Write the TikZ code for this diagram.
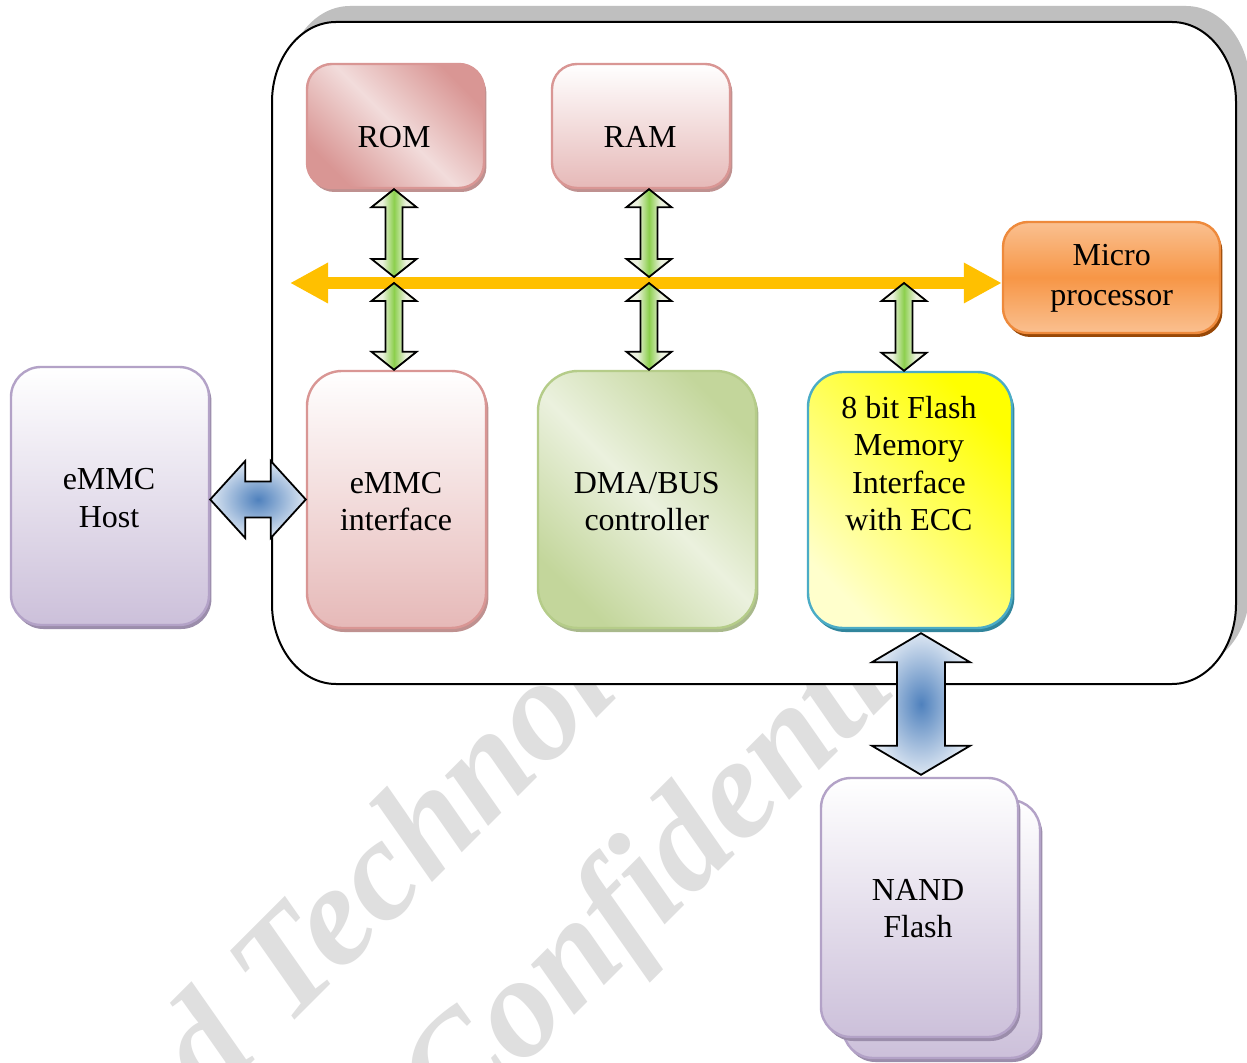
\documentclass[tikz,border=0pt]{standalone}
\usepackage{fontspec}
\setmainfont{Liberation Serif}
\usetikzlibrary{arrows.meta,shadows,calc}
\definecolor{romD}{HTML}{D99694}
\definecolor{romL}{HTML}{F2DCDB}
\definecolor{romB}{HTML}{D99694}
\definecolor{romS}{HTML}{BF9190}
\definecolor{ramD}{HTML}{E6B9B8}
\definecolor{micL}{HTML}{FAC090}
\definecolor{micD}{HTML}{F79646}
\definecolor{micB}{HTML}{EE8A3C}
\definecolor{micS}{HTML}{984807}
\definecolor{dmaD}{HTML}{C3D69B}
\definecolor{dmaL}{HTML}{EBF1DE}
\definecolor{dmaB}{HTML}{B5CC89}
\definecolor{dmaS}{HTML}{A9B98C}
\definecolor{flY}{HTML}{FFFF00}
\definecolor{flL}{HTML}{FFFFCC}
\definecolor{flB}{HTML}{4BACC6}
\definecolor{flS}{HTML}{31859C}
\definecolor{puD}{HTML}{CCC0DA}
\definecolor{puB}{HTML}{B3A2C7}
\definecolor{puS}{HTML}{9B8DAB}
\definecolor{gL}{HTML}{EBF1DE}
\definecolor{gD}{HTML}{8CCF4D}
\definecolor{bL}{HTML}{DCE6F2}
\definecolor{bD}{HTML}{4F81BD}
\definecolor{busc}{HTML}{FFC000}
\definecolor{frameS}{HTML}{BFBFBF}
\pgfdeclarehorizontalshading{garrowshade}{100bp}{color(0bp)=(gL); color(37bp)=(gL); color(50bp)=(gD); color(63bp)=(gL); color(100bp)=(gL)}
\newcommand\vdarr[6]{%
\path[#1] let \p1=#2, \p2=#3 in (\x1,\y1) -- (\x1+#4,\y1-#5) -- (\x1+#6,\y1-#5) -- (\x2+#6,\y2+#5) -- (\x2+#4,\y2+#5) -- (\x2,\y2) -- (\x2-#4,\y2+#5) -- (\x2-#6,\y2+#5) -- (\x1-#6,\y1-#5) -- (\x1-#4,\y1-#5) -- cycle;}
\newcommand\hdarr[6]{%
\path[#1] let \p1=#2, \p2=#3 in (\x1,\y1) -- (\x1+#5,\y1+#4) -- (\x1+#5,\y1+#6) -- (\x2-#5,\y2+#6) -- (\x2-#5,\y2+#4) -- (\x2,\y2) -- (\x2-#5,\y2-#4) -- (\x2-#5,\y2-#6) -- (\x1+#5,\y1-#6) -- (\x1+#5,\y1-#4) -- cycle;}
\tikzset{
 box/.style={rounded corners=#1, line width=1.2pt, inner sep=0pt},
 sh/.style={drop shadow={shadow xshift=1.2pt,shadow yshift=-2pt,fill=#1,opacity=1}},
 txt/.style={inner sep=0pt, align=center, anchor=north, font=\fontsize{16}{18.65}\selectfont},
 wm/.style={inner sep=0pt, text=gray!25, font=\fontsize{72}{80}\selectfont\bfseries\itshape},
 garr/.style={draw=black, line width=0.9pt, line join=miter, shade, shading=garrowshade},
 barr/.style={draw=black, line width=0.9pt, line join=miter, inner color=bD, outer color=bL},
 bus/.style={draw=busc, line width=6pt, arrows={Triangle[length=19pt,width=19pt]-Triangle[length=19pt,width=19pt]}}
}
\begin{document}
\begin{tikzpicture}[x=0.5pt,y=-0.5pt]
\clip (0,0) rectangle (1247,1063);
\fill[white] (0,0) rectangle (1247,1063);
% watermark
\node[wm, anchor=base west, rotate=45] (wm1) at (210,1105) {d Technology};
\node[wm, anchor=base west, rotate=45] (wm2) at (453,1137) {Confidential};
% main frame shadow and frame
\begin{scope}[shift={(14,-16)}]
\fill[frameS] (336,22) -- (1172,22) .. controls (1207.3,22) and (1236,57.8) .. (1236,102) -- (1236,604) .. controls (1236,648.2) and (1207.3,684) .. (1172,684) -- (336,684) .. controls (300.7,684) and (272,648.2) .. (272,604) -- (272,102) .. controls (272,57.8) and (300.7,22) .. (336,22) -- cycle;
\end{scope}
\draw[fill=white, line width=1pt] (336,22) -- (1172,22) .. controls (1207.3,22) and (1236,57.8) .. (1236,102) -- (1236,604) .. controls (1236,648.2) and (1207.3,684) .. (1172,684) -- (336,684) .. controls (300.7,684) and (272,648.2) .. (272,604) -- (272,102) .. controls (272,57.8) and (300.7,22) .. (336,22) -- cycle;
% boxes
\node[box=12.5pt, sh=romS, draw=romB, top color=romD, bottom color=romD, middle color=romL, shading angle=-45, minimum width=88.5pt, minimum height=62pt] (rom) at (395.5,126) {};
\node[box=12.5pt, sh=romS, draw=romB, top color=white, bottom color=ramD, minimum width=89pt, minimum height=62pt] (ram) at (641,126) {};
\node[box=12.5pt, sh=micS, draw=micB, top color=micL, bottom color=micL, middle color=micD, minimum width=108.5pt, minimum height=55.5pt] (micro) at (1111.5,277.5) {};
\node[box=17.5pt, sh=romS, draw=romB, top color=white, bottom color=ramD, minimum width=89.5pt, minimum height=128.5pt] (emmcif) at (396.5,499.5) {};
\node[box=20pt, sh=dmaS, draw=dmaB, top color=dmaD, bottom color=dmaD, middle color=dmaL, shading angle=-45, minimum width=109pt, minimum height=128.5pt] (dma) at (647,499.5) {};
\node[box=17.5pt, sh=flS, draw=flB, top color=flY, bottom color=flL, shading angle=-45, minimum width=102pt, minimum height=128pt] (flash) at (910,500) {};
\node[box=15pt, sh=puS, draw=puB, top color=white, bottom color=puD, minimum width=99pt, minimum height=129pt] (host) at (110,496) {};
\node[box=15pt, sh=puS, draw=puB, top color=white, bottom color=puD, minimum width=98.5pt, minimum height=129pt] (nandb) at (941.5,929) {};
\node[box=15pt, sh=puS, draw=puB, top color=white, bottom color=puD, minimum width=98.5pt, minimum height=129.5pt] (nand) at (919.5,907.5) {};
% bus
\coordinate (busC) at (290,283);
\coordinate (busup) at (290,277);
\draw[bus] (busC) -- (busC -| micro.west);
% green double arrows
\coordinate (romx) at ([xshift=-0.75pt]rom.south);
\coordinate (ramx) at ([xshift=1pt]dma.north);
\coordinate (flx) at ([xshift=-3pt]flash.north);
\vdarr{garr}{(romx)}{(romx |- busup)}{11.25pt}{9pt}{4.25pt}
\vdarr{garr}{(romx |- busC)}{(romx |- emmcif.north)}{11.25pt}{9pt}{4.25pt}
\vdarr{garr}{(ramx |- rom.south)}{(ramx |- busup)}{11.25pt}{9pt}{4.25pt}
\vdarr{garr}{(ramx |- busC)}{(ramx)}{11.25pt}{9pt}{4.25pt}
\vdarr{garr}{(flx |- busC)}{(flx)}{11.25pt}{9pt}{4.25pt}
% blue double arrows
\hdarr{barr}{(host.east |- emmcif.west)}{(emmcif.west)}{19.25pt}{17.5pt}{9pt}
\coordinate (nx) at ([xshift=0.75pt]nand.north);
\coordinate (ftop) at ([yshift=-2pt]flash.south);
\vdarr{barr}{(nx |- ftop)}{([yshift=1pt]nx)}{24.5pt}{14.5pt}{12pt}
% texts
\node[txt] (romt) at (394,120.9) {\strut ROM};
\node[txt] (ramt) at (640,120.9) {\strut RAM};
\node[txt, font=\fontsize{16}{20}\selectfont] (microt) at (1111.7,237) {\strut Micro\\\strut processor};
\node[txt] (emmcift) at (396,466.6) {\strut eMMC\\\strut interface};
\node[txt] (dmat) at (646.7,466.6) {\strut DMA/BUS\\\strut controller};
\node[txt] (flasht) at (909,391.9) {\strut 8 bit Flash\\\strut Memory\\\strut Interface\\\strut with ECC};
\node[txt] (hostt) at (109,463.2) {\strut eMMC\\\strut Host};
\node[txt] (nandt) at (918,873.9) {\strut NAND\\\strut Flash};
\end{tikzpicture}
\end{document}
